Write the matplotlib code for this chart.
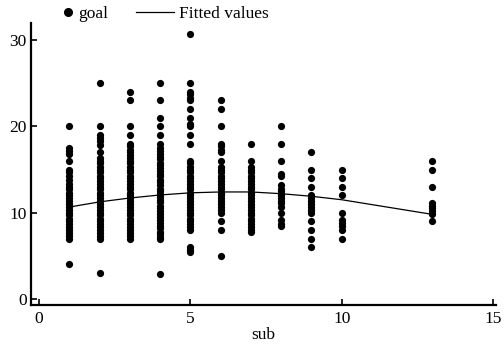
import matplotlib.pyplot as plt
from matplotlib.lines import Line2D

goal_sub1 = [20, 17.5, 17.2, 16.8, 16, 15, 14.7, 14.2, 13.8, 13.3, 13, 12.7, 12.3, 12,
             11.7, 11.3, 11, 10.7, 10.3, 10, 9.7, 9.3, 9, 8.7, 8.3, 8, 7.7, 7.3, 7, 4]
goal_sub2 = [25, 20, 19, 18.7, 18.3, 17.8, 17, 16.3, 16, 15.7, 15.3, 15, 14.7, 14.3, 14,
             13.7, 13.3, 13, 12.7, 12.3, 12, 11.7, 11.3, 11, 10.7, 10.3, 10, 9.7, 9.3,
             9, 8.7, 8.3, 8, 7.7, 7.3, 7, 3]
goal_sub3 = [24, 23, 20, 19, 18, 17.7, 17.3, 17, 16.7, 16.3, 16, 15.7, 15.3, 15, 14.7,
             14.3, 14, 13.7, 13.3, 13, 12.7, 12.3, 12, 11.7, 11.3, 11, 10.7, 10.3, 10,
             9.7, 9.3, 9, 8.7, 8.3, 8, 7.7, 7.3, 7]
goal_sub4 = [25, 23, 21, 20, 19, 18, 17.5, 17.2, 16.8, 16.5, 16.2, 15.8, 15.5, 15.2,
             14.8, 14.5, 14.2, 13.8, 13.5, 13.2, 12.8, 12.5, 12.2, 11.8, 11.5, 11.2,
             10.8, 10.5, 10.2, 9.8, 9.5, 9.2, 8.8, 8.5, 8.2, 7.8, 7.5, 7.2, 7, 2.9]
goal_sub5 = [30.7, 25, 24, 23.7, 23.3, 23, 22, 21, 20.3, 20, 19, 18, 16, 15.7, 15.3, 15,
             14.7, 14.3, 14, 13.7, 13.3, 13, 12.7, 12.3, 12, 11.7, 11.3, 11, 10.7,
             10.3, 10, 9.7, 9.3, 9, 8.7, 8.3, 8, 6, 5.7, 5.4]
goal_sub6 = [23, 22, 20, 18, 17.7, 17.3, 17, 16, 15.3, 15, 14.7, 14.3, 14, 13.7, 13.3,
             13, 12.7, 12.3, 12, 11.7, 11.3, 11, 10.7, 10.3, 10, 9, 8, 5]
goal_sub7 = [18, 16, 15.3, 15, 14.7, 14.3, 14, 13.7, 13.3, 13, 12.7, 12.3, 12, 11.7,
             11.3, 11, 10.7, 10.3, 10, 9.7, 9.3, 9, 8.7, 8.3, 8, 7.8]
goal_sub8 = [20, 18, 16, 14.5, 14.2, 13.2, 12.8, 12.5, 12.2, 12, 11.7, 11.4, 11.1,
             10.7, 10, 9.1, 8.7, 8.4]
goal_sub9 = [17, 15, 14, 13, 12, 11.7, 11.3, 11, 10.7, 10.3, 10, 9, 8, 7, 6]
goal_sub10 = [15, 14, 13, 12, 10, 9.1, 8.8, 8.5, 8, 7]
goal_sub13 = [16, 15, 13, 11.1, 10.8, 10.5, 10.2, 9.9, 9]

# quadratic fit
fit_sub = [1, 2, 3, 4, 5, 6, 7, 8, 9, 10, 13]
fit_goal = [10.65, 11.25, 11.7, 12.05, 12.3, 12.4, 12.4, 12.2, 11.9, 11.5, 9.8]

columns = {1: goal_sub1, 2: goal_sub2, 3: goal_sub3, 4: goal_sub4, 5: goal_sub5,
           6: goal_sub6, 7: goal_sub7, 8: goal_sub8, 9: goal_sub9, 10: goal_sub10,
           13: goal_sub13}
sub = []
goal = []
for s, vals in columns.items():
    sub += [s] * len(vals)
    goal += vals

plt.rcParams['font.family'] = ['Liberation Serif', 'DejaVu Serif']
plt.rcParams['font.size'] = 12.5

fig = plt.figure(figsize=(5.04, 3.47), dpi=100)
ax = fig.add_axes([31 / 504, 42 / 347, 465 / 504, 282 / 347])

ax.scatter(sub, goal, s=27, color='black', linewidths=0, zorder=3)
ax.plot(fit_sub, fit_goal, color='black', linewidth=0.9, zorder=2)

ax.set_xlim(-0.265, 15.1)
ax.set_ylim(-0.7, 31.98)
ax.set_xticks([0, 5, 10, 15])
ax.set_yticks([0, 10, 20, 30])
ax.tick_params(direction='in', length=4.5, width=1.2, pad=4, labelsize=12.5)
ax.tick_params(axis='y', pad=3)
for side in ['top', 'right']:
    ax.spines[side].set_visible(False)
for side in ['left', 'bottom']:
    ax.spines[side].set_linewidth(1.6)
ax.set_xlabel('sub', labelpad=0)

h_goal = Line2D([], [], linestyle='none', marker='o', markersize=5.5, color='black')
h_fit = Line2D([], [], color='black', linewidth=0.9)
leg1 = fig.legend([h_goal], ['goal'], loc='center left', bbox_to_anchor=(64 / 504, 1 - 14 / 347),
                  frameon=False, handlelength=0.5, handletextpad=0.3, borderpad=0, borderaxespad=0)
leg2 = fig.legend([h_fit], ['Fitted values'], loc='center left',
                  bbox_to_anchor=(136 / 504, 1 - 14 / 347), frameon=False,
                  handlelength=2.2, handletextpad=0.3, borderpad=0, borderaxespad=0)

fig.savefig('out.png', dpi=100)
